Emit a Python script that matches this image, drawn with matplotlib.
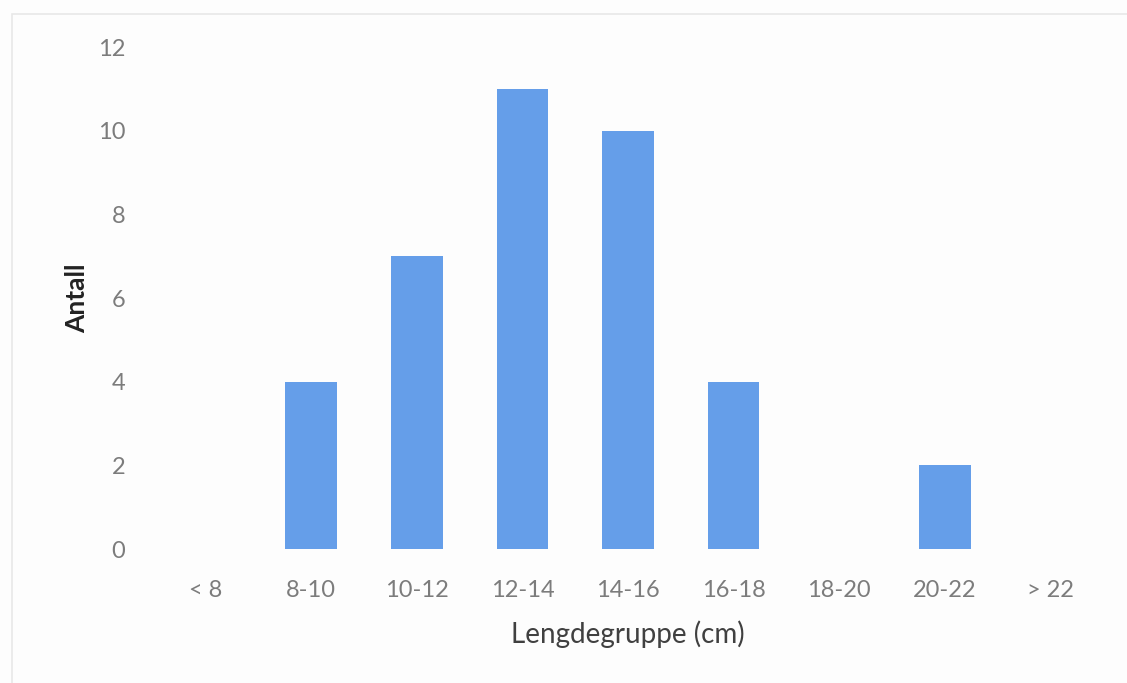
import matplotlib
matplotlib.use("Agg")
import matplotlib.pyplot as plt
from matplotlib.patches import Rectangle
from matplotlib import font_manager

# Length groups and fish counts
categories = ["< 8", "8-10", "10-12", "12-14", "14-16", "16-18", "18-20", "20-22", "> 22"]
counts = [0, 4, 7, 11, 10, 4, 0, 2, 0]
y_ticks = [0, 2, 4, 6, 8, 10, 12]

names = {f.name for f in font_manager.fontManager.ttflist}
family = "Lato" if "Lato" in names else "DejaVu Sans"

W, H = 1127, 683
fig = plt.figure(figsize=(W / 100, H / 100), dpi=100)
fig.patch.set_facecolor("#fdfdfd")

# light frame along the left and top of the chart area
fig.add_artist(Rectangle((12 / W, -0.05), 1.2, 1.05 - 14 / H, transform=fig.transFigure,
                         fill=False, edgecolor="#e8e8e8", linewidth=1.2))

ax = fig.add_axes([153 / W, 1 - 549 / H, 950 / W, 502 / H])
ax.set_facecolor("none")

x = list(range(len(categories)))
ax.bar(x, counts, width=0.49, color="#659ee9", edgecolor="none")

ax.set_xlim(-0.5, len(categories) - 0.5)
ax.set_ylim(0, 12)
ax.set_yticks(y_ticks)
ax.set_xticks(x)
ax.set_xticklabels(categories)

for s in ax.spines.values():
    s.set_visible(False)
ax.tick_params(axis="both", length=0, labelcolor="#7c7c7c", labelsize=17)
ax.tick_params(axis="y", pad=20)
ax.tick_params(axis="x", pad=22)
for lbl in ax.get_xticklabels() + ax.get_yticklabels():
    lbl.set_fontfamily(family)

ax.set_xlabel("Lengdegruppe (cm)", fontsize=20, color="#404040", family=family, labelpad=14)
ax.set_ylabel("Antall", fontsize=19, color="#222222", family=family, fontweight="bold", labelpad=6)

fig.savefig("out.png", dpi=100, facecolor=fig.get_facecolor())
